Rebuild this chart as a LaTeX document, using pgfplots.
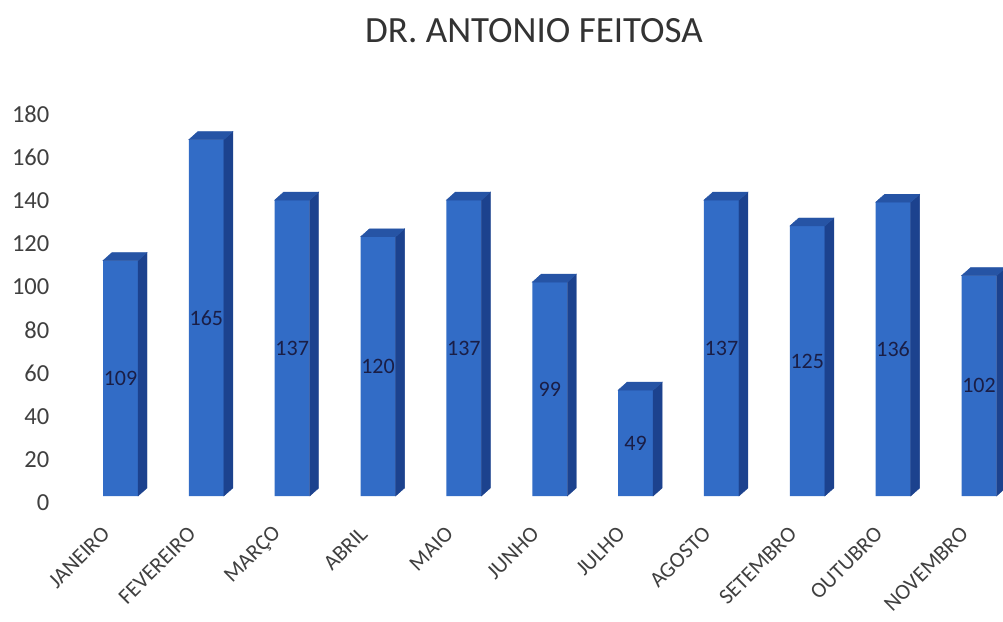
\documentclass[border=0pt]{standalone}
\usepackage{pgfplots}
\pgfplotsset{compat=1.18}
\usepackage{pgfplotstable}
\usepackage{fontspec}
\setmainfont{Carlito}
\definecolor{front}{RGB}{50,108,198}
\definecolor{side}{RGB}{28,66,142}
\definecolor{topc}{RGB}{38,84,165}
\definecolor{lbl}{RGB}{26,30,70}
\definecolor{tick}{RGB}{64,64,64}
\pgfplotstableread{
x v
0 109
1 165
2 137
3 120
4 137
5 99
6 49
7 137
8 125
9 136
10 102
}\data
\begin{document}
\begin{tikzpicture}
\useasboundingbox[fill=white] (0,0) rectangle (1003pt,621pt);
\node[font=\fontsize{37}{40}\selectfont, text=black!80, anchor=center] at (534pt,590pt) {DR. ANTONIO FEITOSA};
\begin{axis}[
  at={(120.5pt,125pt)}, anchor=origin,
  x=85.85pt, y=2.16pt,
  xmin=-0.73, xmax=10.28, ymin=0, ymax=180,
  clip=false,
  axis line style={draw=none},
  major tick length=0pt,
  ytick={0,20,...,180},
  xtick={0,...,10},
  xticklabels={JANEIRO,FEVEREIRO,MARÇO,ABRIL,MAIO,JUNHO,JULHO,AGOSTO,SETEMBRO,OUTUBRO,NOVEMBRO},
  yticklabel style={font=\fontsize{24.5}{27}\selectfont, text=tick, xshift=-5pt, yshift=-7pt},
  xticklabel style={font=\fontsize{22}{24}\selectfont, text=tick, xshift=-12pt, yshift=-32pt, rotate=45, anchor=east},
  /pgf/number format/assume math mode=true,
]
\addplot[ybar, bar width=35pt, fill=front, draw=none] table[x=x,y=v] {\data};
\addplot[scatter, only marks, mark=none,
  visualization depends on={rawy \as \val},
  scatter/@pre marker code/.code={
    \pgfmathsetmacro\h{\val*2.16}
    \fill[side] (17.5pt,0pt) -- (26.5pt,8pt) -- (26.5pt,{-\h pt+8pt}) -- (17.5pt,{-\h pt}) -- cycle;
    \fill[topc] (-17.5pt,0pt) -- (17.5pt,0pt) -- (26.5pt,8pt) -- (-8.5pt,8pt) -- cycle;
    \node[font=\fontsize{22}{24}\selectfont, text=lbl] at (0pt,{-\h pt/2}) {\pgfmathprintnumber{\val}};
  },
  scatter/@post marker code/.code={},
] table[x=x,y=v] {\data};
\end{axis}
\end{tikzpicture}
\end{document}
